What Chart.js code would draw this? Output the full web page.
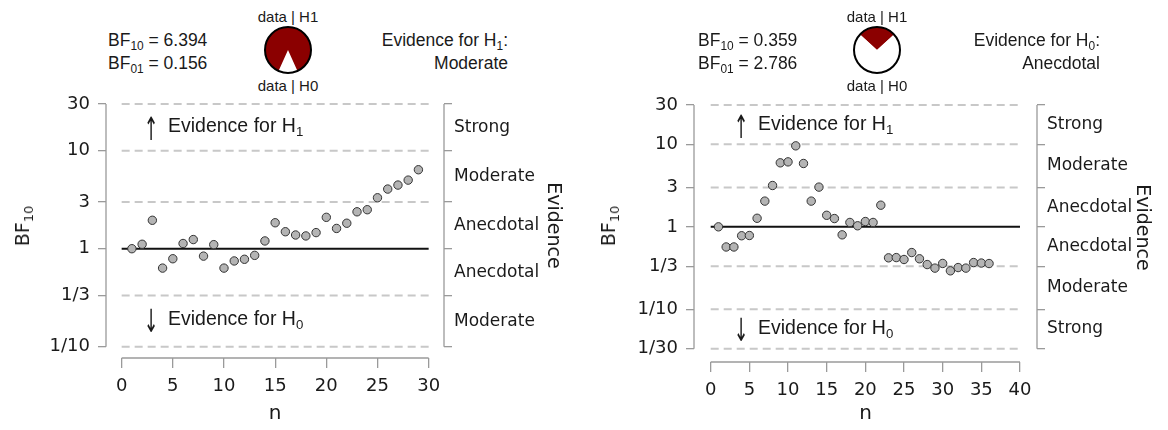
<!DOCTYPE html>
<html lang="en">
<head>
<meta charset="UTF-8">
<title>Sequential analysis: BF10 by n</title>
<script src="https://cdn.jsdelivr.net/npm/chart.js"></script>
<style>
    body {
        margin: 0;
        background: #fff;
    }
    #page {
        position: relative;
        width: 1168px;
        height: 430px;
        overflow: hidden;
        font-family: "Liberation Sans", Arial, sans-serif;
        color: #1a1a1a;
    }
    .panel {
        position: absolute;
        top: 0;
        width: 584px;
        height: 430px;
    }
    .panel canvas.plot {
        position: absolute;
        left: 0;
        top: 0;
    }
    .bfval, .evid {
        position: absolute;
        top: 29px;
        font-size: 17.5px;
        line-height: 23px;
        white-space: nowrap;
    }
    .evid { text-align: right; }
    .dlab {
        position: absolute;
        font-size: 15px;
        line-height: 18px;
        transform: translate(-50%, -50%);
        white-space: nowrap;
    }
    .pie {
        position: absolute;
        top: 24px;
    }
    .ytitle {
        position: absolute;
        top: 226px;
        font-family: "DejaVu Sans", sans-serif;
        font-size: 19px;
        transform: translate(-50%, -50%) rotate(-90deg);
        white-space: nowrap;
    }
    .note {
        position: absolute;
        font-size: 19.5px;
        line-height: 22px;
        white-space: nowrap;
    }
    .arrow {
        position: absolute;
        font-family: "DejaVu Sans", sans-serif;
        font-size: 32px;
        line-height: 32px;
        transform: translateX(-50%) scaleX(0.55);
    }
    sub {
        font-size: 0.68em;
        vertical-align: -0.3em;
        line-height: 0;
    }
</style>
</head>
<body>
<div id="page">
    <div class="panel" style="left:0">
        <div class="bfval" style="left:108px">BF<sub>10</sub> = 6.394<br>BF<sub>01</sub> = 0.156</div>
        <div class="dlab" style="left:288px; top:17px">data | H1</div>
        <canvas class="pie" id="pieL" width="52" height="52" style="left:262px"></canvas>
        <div class="dlab" style="left:288px; top:86px">data | H0</div>
        <div class="evid" style="right:76px">Evidence for H<sub>1</sub>:<br>Moderate</div>
        <canvas class="plot" id="plotL" width="584" height="430"></canvas>
        <div class="ytitle" style="left:22px">BF<sub>10</sub></div>
        <div class="arrow" style="left:151px; top:113px">↑</div>
        <div class="note" style="left:168px; top:114px">Evidence for H<sub>1</sub></div>
        <div class="arrow" style="left:151px; top:305px">↓</div>
        <div class="note" style="left:168px; top:307px">Evidence for H<sub>0</sub></div>
    </div>
    <div class="panel" style="left:584px">
        <div class="bfval" style="left:114px">BF<sub>10</sub> = 0.359<br>BF<sub>01</sub> = 2.786</div>
        <div class="dlab" style="left:293px; top:17px">data | H1</div>
        <canvas class="pie" id="pieR" width="52" height="52" style="left:267px"></canvas>
        <div class="dlab" style="left:293px; top:86px">data | H0</div>
        <div class="evid" style="right:68px">Evidence for H<sub>0</sub>:<br>Anecdotal</div>
        <canvas class="plot" id="plotR" width="584" height="430"></canvas>
        <div class="ytitle" style="left:24px">BF<sub>10</sub></div>
        <div class="arrow" style="left:157px; top:111px">↑</div>
        <div class="note" style="left:174px; top:112px">Evidence for H<sub>1</sub></div>
        <div class="arrow" style="left:157px; top:314px">↓</div>
        <div class="note" style="left:174px; top:316px">Evidence for H<sub>0</sub></div>
    </div>
</div>

<script>
    // left panel: sequential BF10 for n = 1..29
    const nLeft = [1, 2, 3, 4, 5, 6, 7, 8, 9, 10, 11, 12, 13, 14, 15, 16, 17, 18, 19, 20,
        21, 22, 23, 24, 25, 26, 27, 28, 29];
    const bfLeft = [1.00, 1.11, 1.95, 0.634, 0.79, 1.13, 1.24, 0.84, 1.10, 0.634,
        0.75, 0.78, 0.855, 1.20, 1.84, 1.49, 1.38, 1.35, 1.46, 2.09,
        1.61, 1.82, 2.38, 2.50, 3.31, 4.06, 4.46, 5.01, 6.394];

    // right panel: sequential BF10 for n = 1..36
    const nRight = [1, 2, 3, 4, 5, 6, 7, 8, 9, 10, 11, 12, 13, 14, 15, 16, 17, 18, 19, 20,
        21, 22, 23, 24, 25, 26, 27, 28, 29, 30, 31, 32, 33, 34, 35, 36];
    const bfRight = [1.00, 0.57, 0.57, 0.78, 0.785, 1.27, 2.05, 3.17, 5.97, 6.13,
        9.59, 5.86, 2.05, 3.03, 1.38, 1.26, 0.80, 1.13, 1.03, 1.16,
        1.13, 1.83, 0.421, 0.424, 0.402, 0.488, 0.41, 0.349, 0.316, 0.36,
        0.293, 0.321, 0.316, 0.369, 0.364, 0.359];

    const xTicksLeft = [0, 5, 10, 15, 20, 25, 30];
    const xTicksRight = [0, 5, 10, 15, 20, 25, 30, 35, 40];

    const yTicksLeft = [1 / 10, 1 / 3, 1, 3, 10, 30];
    const yLabelsLeft = ['1/10', '1/3', '1', '3', '10', '30'];
    const yTicksRight = [1 / 30, 1 / 10, 1 / 3, 1, 3, 10, 30];
    const yLabelsRight = ['1/30', '1/10', '1/3', '1', '3', '10', '30'];

    // evidence categories between neighbouring ticks, bottom to top
    const evidenceLeft = ['Moderate', 'Anecdotal', 'Anecdotal', 'Moderate', 'Strong'];
    const evidenceRight = ['Strong', 'Moderate', 'Anecdotal', 'Anecdotal', 'Moderate', 'Strong'];

    // posterior shares shown in the pies: [data | H1, data | H0]
    const pieLeft = [0.865, 0.135];
    const pieRight = [0.264, 0.736];

    const AXIS_GREY = '#9a9a9a';
    const GRID_GREY = '#c8c8c8';
    const TEXT = '#1a1a1a';

    // R-style axis lines that only run from first to last tick
    const rAxes = {
        id: 'rAxes',
        afterDraw(chart) {
            const {ctx, chartArea, scales} = chart;
            const yt = scales.y.ticks, zt = scales.y2.ticks, xt = scales.x.ticks;
            ctx.save();
            ctx.strokeStyle = AXIS_GREY;
            ctx.lineWidth = 1.3;
            ctx.beginPath();
            ctx.moveTo(chartArea.left, scales.y.getPixelForValue(yt[0].value));
            ctx.lineTo(chartArea.left, scales.y.getPixelForValue(yt[yt.length - 1].value));
            ctx.moveTo(chartArea.right, scales.y2.getPixelForValue(zt[0].value));
            ctx.lineTo(chartArea.right, scales.y2.getPixelForValue(zt[zt.length - 1].value));
            ctx.moveTo(scales.x.getPixelForValue(xt[0].value), chartArea.bottom);
            ctx.lineTo(scales.x.getPixelForValue(xt[xt.length - 1].value), chartArea.bottom);
            ctx.stroke();
            ctx.restore();
        }
    };

    function makePlot(id, n, bf, xTicks, yTicks, yLabels, evidence, box) {
        const x0 = xTicks[0], x1 = xTicks[xTicks.length - 1];
        const datasets = [{
            label: 'BF10',
            data: n.map((v, i) => ({x: v, y: bf[i]})),
            pointRadius: 4.2,
            pointBorderWidth: 1,
            pointBackgroundColor: '#b4b4b4',
            pointBorderColor: '#333',
            order: 0
        }, {
            label: 'BF10 = 1',
            data: [{x: x0, y: 1}, {x: x1, y: 1}],
            showLine: true,
            borderColor: '#111',
            borderWidth: 2,
            pointRadius: 0,
            order: 1
        }];
        yTicks.filter(v => v !== 1).forEach(v => {
            datasets.push({
                label: 'grid',
                data: [{x: x0, y: v}, {x: x1, y: v}],
                showLine: true,
                borderColor: GRID_GREY,
                borderWidth: 2,
                borderDash: [8, 5],
                pointRadius: 0,
                order: 2
            });
        });

        // boundaries plus geometric midpoints carrying the evidence labels
        const evTicks = [];
        yTicks.forEach((v, i) => {
            evTicks.push({value: v});
            if (i < yTicks.length - 1) {
                evTicks.push({value: Math.sqrt(v * yTicks[i + 1]), mid: true, text: evidence[i]});
            }
        });

        const tickFont = {family: 'DejaVu Sans', size: 18};

        return new Chart(document.getElementById(id), {
            type: 'scatter',
            data: {datasets},
            options: {
                responsive: false,
                animation: false,
                layout: {padding: {top: box.top, left: 0, right: 0, bottom: 0}},
                plugins: {legend: {display: false}, tooltip: {enabled: false}},
                scales: {
                    x: {
                        type: 'linear',
                        min: box.xMin,
                        max: box.xMax,
                        afterBuildTicks: s => { s.ticks = xTicks.map(v => ({value: v})); },
                        afterFit: s => { s.height = box.xHeight; },
                        border: {display: false},
                        grid: {drawOnChartArea: false, tickLength: 10, color: AXIS_GREY, lineWidth: 1.3},
                        ticks: {font: tickFont, color: TEXT, padding: 8, maxRotation: 0, autoSkip: false},
                        title: {
                            display: true, text: 'n', color: TEXT,
                            font: {family: 'DejaVu Sans', size: 20},
                            padding: {top: 0, bottom: 4}
                        }
                    },
                    y: {
                        type: 'logarithmic',
                        position: 'left',
                        min: box.yMin,
                        max: box.yMax,
                        afterBuildTicks: s => { s.ticks = yTicks.map(v => ({value: v})); },
                        afterFit: s => { s.width = box.yWidth; },
                        border: {display: false},
                        grid: {drawOnChartArea: false, tickLength: 8, color: AXIS_GREY, lineWidth: 1.3},
                        ticks: {
                            font: tickFont, color: TEXT, padding: 8, autoSkip: false,
                            callback: (v, i) => yLabels[i]
                        }
                    },
                    y2: {
                        type: 'logarithmic',
                        position: 'right',
                        min: box.yMin,
                        max: box.yMax,
                        afterBuildTicks: s => { s.ticks = evTicks.map(t => Object.assign({}, t)); },
                        afterFit: s => { s.width = box.y2Width; },
                        border: {display: false},
                        grid: {
                            drawOnChartArea: false, tickLength: 8, lineWidth: 1.3,
                            color: c => (c.tick && c.tick.mid) ? 'rgba(0,0,0,0)' : AXIS_GREY
                        },
                        ticks: {
                            font: {family: 'DejaVu Sans', size: 17}, color: TEXT, padding: 2, autoSkip: false,
                            callback: (v, i, ticks) => ticks[i].mid ? ticks[i].text : ''
                        },
                        title: {
                            display: true, text: 'Evidence', color: TEXT,
                            font: {family: 'DejaVu Sans', size: 19},
                            padding: {top: box.evPad, bottom: 0}
                        }
                    }
                }
            },
            plugins: [rAxes]
        });
    }

    // black outline round the pie
    const pieRim = {
        id: 'pieRim',
        afterDatasetsDraw(chart) {
            const arc = chart.getDatasetMeta(0).data[0];
            const ctx = chart.ctx;
            ctx.save();
            ctx.beginPath();
            ctx.arc(arc.x, arc.y, arc.outerRadius, 0, Math.PI * 2);
            ctx.lineWidth = 2;
            ctx.strokeStyle = '#000';
            ctx.stroke();
            ctx.restore();
        }
    };

    function makePie(id, shares, rotation, colors) {
        return new Chart(document.getElementById(id), {
            type: 'pie',
            data: {
                labels: ['data | H1', 'data | H0'],
                datasets: [{data: shares, backgroundColor: colors, borderWidth: 0}]
            },
            options: {
                responsive: false,
                animation: false,
                rotation: rotation,
                layout: {padding: 3},
                plugins: {legend: {display: false}, tooltip: {enabled: false}}
            },
            plugins: [pieRim]
        });
    }

    makePlot('plotL', nLeft, bfLeft, xTicksLeft, yTicksLeft, yLabelsLeft, evidenceLeft, {
        top: 93, xMin: -1.53, xMax: 31.5, yMin: 0.0767, yMax: 38.8,
        yWidth: 106, y2Width: 140, xHeight: 72, evPad: 20
    });
    makePlot('plotR', nRight, bfRight, xTicksRight, yTicksRight, yLabelsRight, evidenceRight, {
        top: 93, xMin: -2.16, xMax: 42.2, yMin: 0.023, yMax: 41.9,
        yWidth: 110, y2Width: 131, xHeight: 68, evPad: 15
    });

    // H0 share drawn as a white wedge centred at the bottom (left),
    // H1 share as a red wedge centred at the top (right)
    makePie('pieL', [pieLeft[1], pieLeft[0]], 180 - pieLeft[1] * 180, ['#ffffff', '#8b0000']);
    makePie('pieR', [pieRight[0], pieRight[1]], -pieRight[0] * 180, ['#8b0000', '#ffffff']);
</script>
</body>
</html>
